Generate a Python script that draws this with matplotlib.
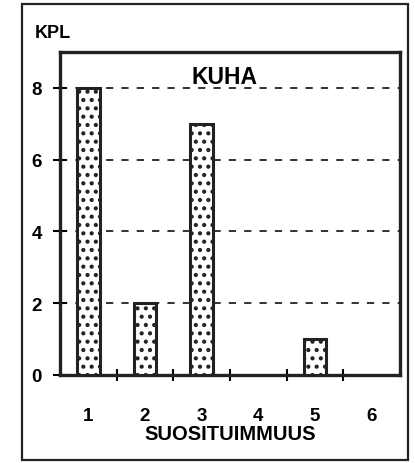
import matplotlib
matplotlib.use("Agg")
import matplotlib.pyplot as plt
from matplotlib.patches import Rectangle

categories = [1, 2, 3, 4, 5, 6]
values = [8, 2, 7, 0, 1, 0]
yticks = [0, 2, 4, 6, 8]
title = "KUHA"
xlabel = "SUOSITUIMMUUS"
ylabel = "KPL"

plt.rcParams['font.family'] = ['Liberation Sans', 'DejaVu Sans']
plt.rcParams['font.weight'] = 'bold'
plt.rcParams['hatch.linewidth'] = 1.8

fig = plt.figure(figsize=(4.15, 4.64), dpi=100)
ax = fig.add_axes([60/415, 1-376/464, 340/415, (376-53)/464])

# outer frame
fig.patches.append(Rectangle((22/415, 1-461/464), (408-22)/415, (461-5)/464,
                             transform=fig.transFigure, fill=False,
                             edgecolor='#222222', linewidth=1.6))

for y in yticks[1:]:
    ax.axhline(y, color='#222222', linestyle=(0, (4, 4.5)), linewidth=1.3, zorder=1)

bars = ax.bar(categories, values, width=0.4, facecolor='white', edgecolor='#222222',
              linewidth=2.2, hatch='..', zorder=3)
for b in bars:
    if b.get_height() == 0:
        b.set_visible(False)

ax.set_xlim(0.5, 6.5)
ax.set_ylim(0, 9)
ax.set_yticks(yticks)
ax.set_xticks(categories)
ax.set_xticks([c + 0.5 for c in categories[:-1]], minor=True)
ax.tick_params(axis='x', which='major', length=0, pad=23, labelsize=13.5)
ax.tick_params(axis='x', which='minor', length=8, width=1.5, direction='inout')
ax.tick_params(axis='y', which='major', length=10, width=1.5, direction='inout',
               pad=8, labelsize=13.5)
for s in ax.spines.values():
    s.set_linewidth(2.4)
    s.set_color('#222222')

ax.text(0.485, 0.925, title, transform=ax.transAxes, ha='center', va='center',
        fontsize=16.5, fontweight='bold')
fig.text(53/415, 1-33/464, ylabel, ha='center', va='center', fontsize=13, fontweight='bold')
fig.text(230/415, 1-435/464, xlabel, ha='center', va='center', fontsize=14.5, fontweight='bold')

fig.savefig("out.png", dpi=100)
